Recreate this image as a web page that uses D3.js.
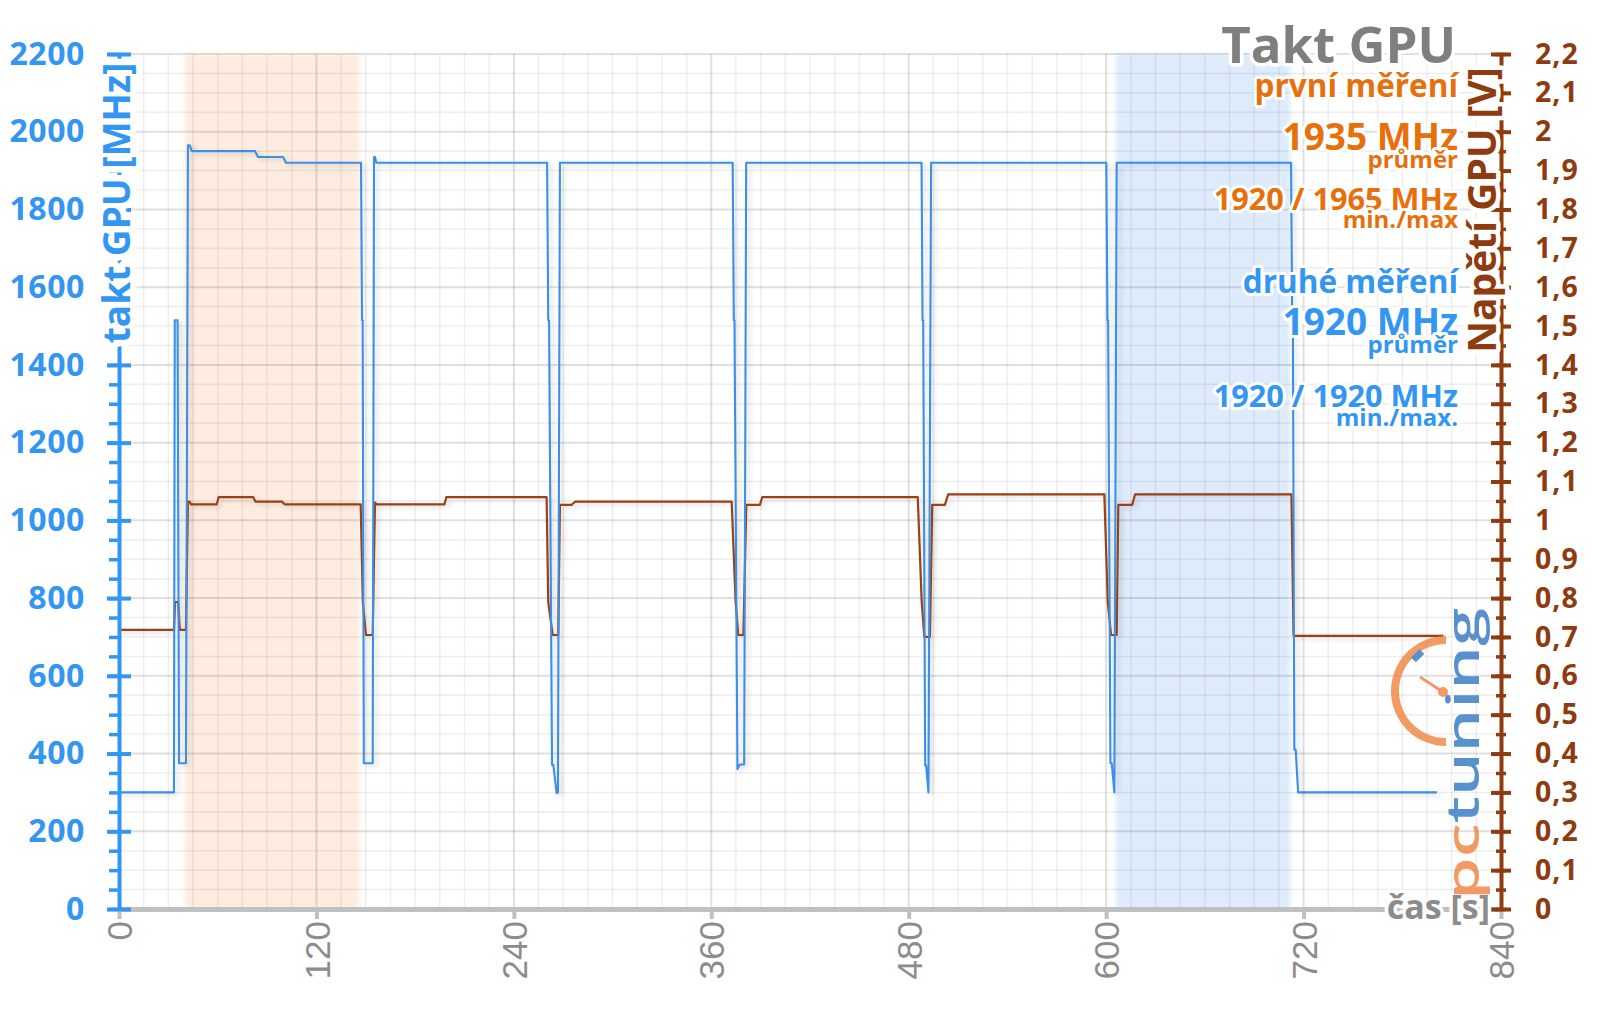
<!DOCTYPE html>
<html><head><meta charset="utf-8">
<script src="https://cdn.jsdelivr.net/npm/d3@7"></script>
<style>
html,body{margin:0;padding:0;background:#fff;}
svg{display:block;font-family:"Open Sans",sans-serif;}
</style></head><body>
<svg id="c" width="1600" height="1009"></svg>
<script>
// ---------- data ----------
const timeTicks = [0, 120, 240, 360, 480, 600, 720, 840];
const clockTicks = [0, 200, 400, 600, 800, 1000, 1200, 1400, 1600, 1800, 2000, 2200];
const voltTicks = [0, 0.1, 0.2, 0.3, 0.4, 0.5, 0.6, 0.7, 0.8, 0.9, 1.0, 1.1, 1.2, 1.3, 1.4, 1.5, 1.6, 1.7, 1.8, 1.9, 2.0, 2.1, 2.2];
const voltTickLabels = ["0","0,1","0,2","0,3","0,4","0,5","0,6","0,7","0,8","0,9","1","1,1","1,2","1,3","1,4","1,5","1,6","1,7","1,8","1,9","2","2,1","2,2"];

// shaded measurement windows (s)
const bandStart = [40, 606];
const bandEnd   = [146, 712];

// GPU clock (MHz) breakpoints
const clockT = [0,33.4,33.9,35.6,36.5,40.7,41.9,43,44.3,82.7,84.5,99.7,101.5,147.1,147.7,148.1,148.8,154.2,155.0,155.6,156.4,
  260.2,260.9,261.4,263.2,264.0,266.0,266.8,268.0,
  373.0,373.7,374.1,375.9,377.4,380.0,381.2,
  487.8,488.4,488.8,490.0,490.6,492.0,493.6,
  600.1,600.8,601.2,602.6,603.4,605.0,606.4,
  712.4,713.1,713.5,714.4,715.2,716.7,801];
const clockMHz = [300,300,1515,1515,375,375,1965,1965,1950,1950,1935,1935,1920,1920,1515,1515,375,375,1935,1935,1920,
  1920,1515,1515,371,371,298,300,1920,
  1920,1515,1515,360,372,372,1920,
  1920,1515,1515,370,370,300,1920,
  1920,1515,1515,375,375,300,1920,
  1920,1515,1515,410,410,300,300];

// GPU voltage (V) breakpoints
const voltT = [0,33.4,34.1,35.9,37.0,40.7,41.9,43.0,43.8,59.4,60.6,81.5,83.0,99.2,100.8,146.9,148.2,150.1,154.2,155.6,156.6,
  197.8,199.0,259.9,260.9,263.6,267.0,268.0,275.2,277.2,
  372.4,374.8,376.4,379.5,381.3,389.6,391.0,
  485.5,487.9,489.5,492.9,494.3,502.0,504.0,
  598.9,601.0,603.0,606.4,607.4,615.9,617.6,
  712.6,713.9,805];
const voltV = [0.718,0.718,0.790,0.790,0.718,0.718,1.048,1.048,1.041,1.041,1.060,1.060,1.048,1.048,1.041,1.041,0.790,0.705,0.705,1.046,1.041,
  1.041,1.060,1.060,0.790,0.705,0.705,1.040,1.040,1.048,
  1.048,0.790,0.705,0.705,1.040,1.040,1.060,
  1.060,0.790,0.700,0.700,1.040,1.040,1.067,
  1.067,0.790,0.705,0.705,1.040,1.040,1.067,
  1.067,0.703,0.703];

const chartTitle = "Takt GPU";
const firstRun  = ["první měření", "1935 MHz", "průměr", "1920 / 1965 MHz", "min./max"];
const secondRun = ["druhé měření", "1920 MHz", "průměr", "1920 / 1920 MHz", "min./max."];
const leftTitle = "takt GPU [MHz]";
const rightTitle = "Napětí GPU [V]";
const xTitle = "čas [s]";

// ---------- styles ----------
const BLUE = "#3396f2", LINEBLUE = "#3a8fe6", BROWN = "#8f3b10", LINEBROWN = "#9c3f14";
const ORANGE = "#e8700c", GRAY = "#8c8c8c";

const svg = d3.select("#c");
svg.append("rect").attr("width",1600).attr("height",1009).attr("fill","#fff");

const defs = svg.append("defs");
const blur = defs.append("filter").attr("id","blur").attr("x","-10%").attr("width","120%");
blur.append("feGaussianBlur").attr("stdDeviation",2.5);
const shadow = defs.append("filter").attr("id","shadow").attr("x","-5%").attr("y","-5%").attr("width","110%").attr("height","110%");
shadow.append("feDropShadow").attr("dx",3).attr("dy",2).attr("stdDeviation",2.5).attr("flood-color","#000").attr("flood-opacity",0.16);

const x  = d3.scaleLinear().domain([0, 840]).range([119, 1501]);
const yL = d3.scaleLinear().domain([0, 2200]).range([909, 54]);
const yR = d3.scaleLinear().domain([0, 2.2]).range([909, 54]);

// bands
const bandColors = ["#fdecdf", "#ddebfc"];
svg.append("g").attr("filter","url(#blur)").selectAll("rect").data(bandStart).join("rect")
  .attr("x",(d)=>x(d)).attr("width",(d,i)=>x(bandEnd[i])-x(d))
  .attr("y",yL(2200)).attr("height",yL(0)-yL(2200))
  .attr("fill",(d,i)=>bandColors[i]);

// grid
const grid = svg.append("g");
grid.selectAll("line.vmin").data(d3.range(0, 841, 15).filter(v=>v%120!==0)).join("line")
  .attr("x1",d=>x(d)).attr("x2",d=>x(d)).attr("y1",yL(2200)).attr("y2",yL(0))
  .attr("stroke","rgba(0,0,0,0.065)").attr("stroke-width",1.5);
grid.selectAll("line.hmin").data(d3.range(0, 2201, 50).filter(v=>v%200!==0)).join("line")
  .attr("x1",x(0)).attr("x2",x(840)).attr("y1",d=>yL(d)).attr("y2",d=>yL(d))
  .attr("stroke","rgba(0,0,0,0.065)").attr("stroke-width",1.5);
grid.selectAll("line.vmaj").data(timeTicks).join("line")
  .attr("x1",d=>x(d)).attr("x2",d=>x(d)).attr("y1",yL(2200)).attr("y2",yL(0))
  .attr("stroke","rgba(0,0,0,0.12)").attr("stroke-width",2);
grid.selectAll("line.hmaj").data(clockTicks).join("line")
  .attr("x1",x(0)).attr("x2",x(840)).attr("y1",d=>yL(d)).attr("y2",d=>yL(d))
  .attr("stroke","rgba(0,0,0,0.12)").attr("stroke-width",2);

// x axis
const gx = svg.append("g").attr("transform",`translate(0,${yL(0)})`)
  .call(d3.axisBottom(x).tickValues(timeTicks).tickSize(10).tickSizeOuter(0).tickFormat(d3.format("d")));
gx.select(".domain").attr("stroke","#c0c0c0").attr("stroke-width",5);
gx.selectAll(".tick line").attr("stroke","#c0c0c0").attr("stroke-width",4);
gx.selectAll(".tick text").attr("transform","rotate(-90)").attr("text-anchor","end")
  .attr("x",-12).attr("y",0).attr("dy","0.36em")
  .attr("fill",GRAY).attr("font-size",35).attr("font-family","'Liberation Sans',Arial,sans-serif");

// series
const lineV = d3.line().x((d)=>x(voltT[d])).y((d)=>yR(voltV[d]));
const lineC = d3.line().x((d)=>x(clockT[d])).y((d)=>yL(clockMHz[d]));
const series = svg.append("g").attr("filter","url(#shadow)");
series.append("path").attr("d",lineV(d3.range(voltT.length))).attr("fill","none")
  .attr("stroke",LINEBROWN).attr("stroke-width",2.2).attr("stroke-linejoin","round");
series.append("path").attr("d",lineC(d3.range(clockT.length))).attr("fill","none")
  .attr("stroke",LINEBLUE).attr("stroke-width",2.1).attr("stroke-linejoin","round");

// left axis
const gL = svg.append("g").attr("transform",`translate(${x(0)},0)`);
gL.append("g").call(d3.axisLeft(yL).tickValues(d3.range(0,2201,50)).tickSize(10).tickSizeOuter(0).tickFormat(""))
  .call(g=>{g.select(".domain").remove(); g.selectAll("line").attr("stroke",BLUE).attr("stroke-width",3.5);});
gL.append("g").call(d3.axisLeft(yL).tickValues(clockTicks).tickSize(12).tickSizeOuter(0).tickPadding(22).tickFormat(d3.format("d")))
  .call(g=>{
    g.select(".domain").attr("stroke",BLUE).attr("stroke-width",4);
    g.selectAll(".tick line").attr("x1",12).attr("stroke",BLUE).attr("stroke-width",4);
    g.selectAll(".tick text").attr("fill",BLUE).attr("font-size",32).attr("font-weight",700)
      .attr("font-family","'Open Sans',sans-serif").attr("letter-spacing",0.6);
  });

// right axis
const gR = svg.append("g").attr("transform",`translate(${x(840)},0)`);
gR.append("g").call(d3.axisRight(yR).tickValues(d3.range(0,45).map(i=>i*0.05)).tickSize(5).tickSizeOuter(0).tickFormat(""))
  .call(g=>{g.select(".domain").remove(); g.selectAll("line").attr("x1",-5).attr("stroke",BROWN).attr("stroke-width",3.5);});
gR.append("g").call(d3.axisRight(yR).tickValues(voltTicks).tickSize(10).tickSizeOuter(0).tickPadding(24)
    .tickFormat((d,i)=>voltTickLabels[i]))
  .call(g=>{
    g.select(".domain").attr("stroke",BROWN).attr("stroke-width",4);
    g.selectAll(".tick line").attr("x1",-10).attr("stroke",BROWN).attr("stroke-width",4);
    g.selectAll(".tick text").attr("fill",BROWN).attr("font-size",28.5).attr("font-weight",700)
      .attr("font-family","'Open Sans',sans-serif").attr("letter-spacing",1);
  });

// helper for haloed text
function halo(sel, w){ return sel.attr("stroke","#fff").attr("stroke-width",w).attr("stroke-linejoin","round").attr("paint-order","stroke"); }

// axis titles
halo(svg.append("text").attr("transform",`translate(130,203) rotate(-90)`).attr("text-anchor","middle")
  .attr("font-size",37).attr("font-weight",700).attr("fill",BLUE).text(leftTitle), 13);
halo(svg.append("text").attr("transform",`translate(1496,210) rotate(-90)`).attr("text-anchor","middle")
  .attr("font-size",39).attr("font-weight",700).attr("fill",BROWN).text(rightTitle), 9);
halo(svg.append("text").attr("x",1490).attr("y",919).attr("text-anchor","end")
  .attr("font-size",34).attr("font-weight",700).attr("fill",GRAY).text(xTitle), 7);

// title and info block
halo(svg.append("text").attr("x",1456).attr("y",63).attr("text-anchor","end")
  .attr("font-size",51).attr("font-weight",700).attr("fill","#7f7f7f").text(chartTitle), 7);
const infoSizes = [31.5, 37, 24, 30.7, 24];
const firstBase = [97, 150, 168, 210, 228];
const secondBase = [293, 335, 353, 407, 426];
firstRun.forEach((t,i)=>{
  halo(svg.append("text").attr("x",1458).attr("y",firstBase[i]).attr("text-anchor","end")
    .attr("font-size",infoSizes[i]).attr("font-weight",700).attr("fill",ORANGE).text(t), 6);
});
secondRun.forEach((t,i)=>{
  halo(svg.append("text").attr("x",1458).attr("y",secondBase[i]).attr("text-anchor","end")
    .attr("font-size",infoSizes[i]).attr("font-weight",700).attr("fill",BLUE).text(t), 6);
});

// logo
const logo = svg.append("g").attr("opacity",0.85);
const lt = logo.append("text").attr("transform","translate(1479,900) rotate(-90)")
  .attr("font-size",46).attr("font-weight",600).attr("textLength",292).attr("lengthAdjust","spacingAndGlyphs");
lt.append("tspan").attr("fill","#f08a4b").text("pc");
lt.append("tspan").attr("fill","#3c7fc6").text("tuning");
logo.append("path").attr("transform","translate(1446,691)")
  .attr("d", d3.arc()({innerRadius:47,outerRadius:55,startAngle:Math.PI,endAngle:2*Math.PI}))
  .attr("fill","#f08a4b");
logo.append("line").attr("x1",1420).attr("y1",677).attr("x2",1443).attr("y2",692)
  .attr("stroke","#f08a4b").attr("stroke-width",3);
logo.append("circle").attr("cx",1443).attr("cy",692).attr("r",5).attr("fill","#f08a4b");
logo.append("rect").attr("x",1414).attr("y",650).attr("width",7).attr("height",12)
  .attr("transform","rotate(45,1418,656)").attr("fill","#3c7fc6");
</script>
</body></html>
